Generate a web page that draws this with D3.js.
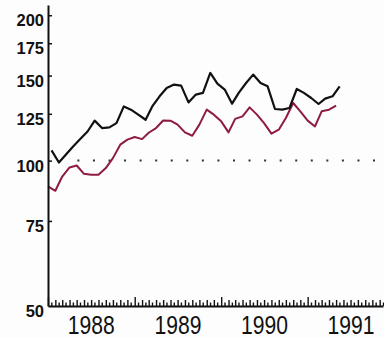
<!DOCTYPE html>
<html>
<head>
<meta charset="utf-8">
<script src="https://cdn.jsdelivr.net/npm/d3@7"></script>
<style>
html,body{margin:0;padding:0;background:#fdfdfd;}
svg{display:block;}
</style>
</head>
<body>
<svg id="chart" width="384" height="338"></svg>
<script>
// ---- data ----
const startMonth = "1988-01";
const monthCount = 41; // Jan 1988 .. May 1991
const seriesBlack = [105.0, 99.1, 102.8, 107.0, 110.8, 114.9, 121.0, 116.8, 117.2, 119.6,
  129.5, 127.5, 124.5, 121.5, 129.5, 135.9, 141.4, 143.7, 143.0, 132.0,
  137.0, 138.1, 151.9, 144.3, 140.3, 131.2, 138.1, 144.8, 150.7, 144.8,
  142.5, 127.9, 127.5, 128.5, 140.7, 138.1, 134.8, 131.0, 134.4, 135.9, 142.5];
const seriesRed = [88.4, 86.6, 92.7, 96.8, 97.7, 93.9, 93.5, 93.5, 96.5, 101.2,
  107.9, 110.5, 111.9, 110.8, 114.2, 116.8, 121.1, 121.0, 118.7, 114.4,
  112.6, 118.7, 127.5, 124.5, 120.6, 114.4, 122.0, 123.5, 128.9, 124.5,
  119.6, 113.7, 115.9, 122.5, 131.6, 126.5, 121.0, 117.7, 126.5, 127.5, 130.0];
const yTicks = [50, 75, 100, 125, 150, 175, 200];
const yearLabels = ["1988", "1989", "1990", "1991"];
const referenceValue = 100;
const referenceSpan = ["1988-05-04", "1991-10-25"];
const xDomain = ["1988-01-01", "1991-11-15"];
const yDomain = [50, 210];

// ---- scales ----
const parse = d3.timeParse("%Y-%m-%d");
const svg = d3.select("#chart");
const x = d3.scaleTime().domain(xDomain.map(parse)).range([48, 383]);
const y = d3.scaleLog().domain(yDomain).range([306, 5]);

const m0 = d3.timeParse("%Y-%m")(startMonth);
const months = d3.timeMonth.range(m0, d3.timeMonth.offset(m0, monthCount));

const blackData = months.map((d, i) => ({date: d3.timeDay.offset(d, 15), v: seriesBlack[i]}));
const redData = months.map((d, i) => ({date: d, v: seriesRed[i]}));

// ---- reference dotted line ----
svg.append("line")
  .attr("x1", x(parse(referenceSpan[0]))).attr("x2", x(parse(referenceSpan[1])))
  .attr("y1", y(referenceValue)).attr("y2", y(referenceValue))
  .attr("stroke", "#333").attr("stroke-width", 2)
  .attr("stroke-dasharray", "2,13.56");

// ---- lines ----
const line = d3.line().x(d => x(d.date)).y(d => y(d.v));
svg.append("path").datum(redData)
  .attr("d", line).attr("fill", "none")
  .attr("stroke", "#8e1b40").attr("stroke-width", 2).attr("stroke-linejoin", "round");
svg.append("path").datum(blackData)
  .attr("d", line).attr("fill", "none")
  .attr("stroke", "#111").attr("stroke-width", 2.2).attr("stroke-linejoin", "round");

// ---- y axis ----
const yAxis = svg.append("g").attr("transform", "translate(48,0)")
  .call(d3.axisLeft(y).tickValues(yTicks).tickSizeInner(-4).tickSizeOuter(0)
    .tickPadding(4).tickFormat(d3.format("d")));
yAxis.select(".domain").attr("stroke", "#111").attr("stroke-width", 2);
yAxis.selectAll(".tick line").attr("stroke", "#111").attr("stroke-width", 1.5);
yAxis.selectAll(".tick").filter(d => d === 50).select("line").remove();
yAxis.selectAll(".tick text")
  .attr("dy", "10.5px")
  .attr("font-family", "'Liberation Sans', Arial, sans-serif")
  .attr("font-weight", "bold").attr("font-size", "16.5px").attr("fill", "#111");

// ---- x axis ----
const xd = x.domain();
const halfMonths = d3.timeMonth.range(xd[0], xd[1]).map(d => d3.timeDay.offset(d, 14));
const monthTicks = d3.timeMonth.range(xd[0], xd[1]).filter(d => d.getMonth() !== 0);
const yearTicks = d3.timeYear.range(xd[0], xd[1]);

function xAxisGroup(values, size) {
  const g = svg.append("g").attr("transform", "translate(0,306)")
    .call(d3.axisBottom(x).tickValues(values).tickSizeInner(-size).tickSizeOuter(0).tickFormat(""));
  g.selectAll(".tick line").attr("stroke", "#111").attr("stroke-width", 1.4);
  return g;
}
xAxisGroup(halfMonths, 3.5).select(".domain").remove();
xAxisGroup(monthTicks, 6).select(".domain").remove();
const gy = xAxisGroup(yearTicks, 9);
gy.select(".domain").attr("stroke", "#111").attr("stroke-width", 2);

// year labels centred on each year
svg.append("g").selectAll("text").data(yearLabels).join("text")
  .attr("x", d => {
    const a = d3.timeParse("%Y")(d), b = d3.timeYear.offset(a, 1);
    return (x(a) + x(b)) / 2;
  })
  .attr("y", 334)
  .attr("text-anchor", "middle")
  .attr("font-family", "'Liberation Sans Narrow', 'Liberation Sans', Arial, sans-serif")
  .attr("font-size", "25px").attr("fill", "#111")
  .attr("textLength", 47).attr("lengthAdjust", "spacingAndGlyphs")
  .text(d => d);
</script>
</body>
</html>
